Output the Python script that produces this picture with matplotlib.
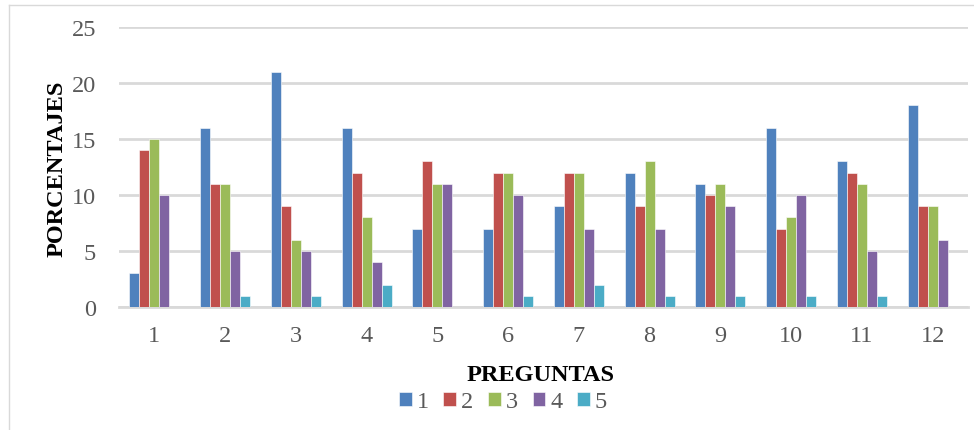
import matplotlib
matplotlib.use("Agg")
import matplotlib.pyplot as plt
import numpy as np
from matplotlib.lines import Line2D

categories = ["1", "2", "3", "4", "5", "6", "7", "8", "9", "10", "11", "12"]
series_names = ["1", "2", "3", "4", "5"]
s1 = [3, 16, 21, 16, 7, 7, 9, 12, 11, 16, 13, 18]
s2 = [14, 11, 9, 12, 13, 12, 12, 9, 10, 7, 12, 9]
s3 = [15, 11, 6, 8, 11, 12, 12, 13, 11, 8, 11, 9]
s4 = [10, 5, 5, 4, 11, 10, 7, 7, 9, 10, 5, 6]
s5 = [0, 1, 1, 2, 0, 1, 2, 1, 1, 1, 1, 0]
series = [s1, s2, s3, s4, s5]
colors = ["#4F81BD", "#C0504D", "#9BBB59", "#8064A2", "#4BACC6"]

W, H = 974, 431
fig = plt.figure(figsize=(W / 100, H / 100), dpi=100)
ax = fig.add_axes([119 / W, 1 - 308 / H, (968 - 119) / W, (308 - 28) / H])

x = np.arange(len(categories))
bw = 0.142
for i, (vals, c) in enumerate(zip(series, colors)):
    ax.bar(x + (i - 2) * bw, vals, width=bw, color=c, edgecolor="white",
           linewidth=0.4, label=series_names[i], zorder=3)

ax.set_xlim(-0.5, len(categories) - 0.5)
ax.set_ylim(0, 25)
ax.set_yticks([0, 5, 10, 15, 20, 25])
ax.set_xticks(x)
ax.set_xticklabels(categories)
ax.yaxis.grid(True, color="#D9D9D9", linewidth=2, zorder=0)
ax.set_axisbelow(True)
for sp in ["top", "right", "left"]:
    ax.spines[sp].set_visible(False)
ax.spines["bottom"].set_color("#D9D9D9")
ax.spines["bottom"].set_linewidth(2)
ax.tick_params(axis="both", length=0, labelsize=17.5, labelcolor="#595959")
for lab in ax.get_xticklabels() + ax.get_yticklabels():
    lab.set_family("Liberation Serif")
ax.tick_params(axis="x", pad=13)
ax.tick_params(axis="y", pad=16.5)

fig.text(541 / W, 1 - 376 / H, "PREGUNTAS", ha="center", va="center",
         fontsize=17.5, fontweight="bold", family="Liberation Serif", color="black")
fig.text(57 / W, 1 - 169 / H, "PORCENTAJES", ha="center", va="center",
         rotation=90, fontsize=17.5, fontweight="bold", family="Liberation Serif",
         color="black")

leg = fig.legend(loc="center", bbox_to_anchor=(503 / W, 1 - 403 / H), ncol=5,
                 frameon=False, handlelength=0.53, handleheight=0.53,
                 handletextpad=0.2, columnspacing=0.6, borderpad=0,
                 prop={"family": "Liberation Serif", "size": 17.5})
for t in leg.get_texts():
    t.set_color("#595959")

# figure border (left and top)
fig.add_artist(Line2D([9 / W, 9 / W], [0, 1 - 6 / H], transform=fig.transFigure,
                      color="#D9D9D9", linewidth=1))
fig.add_artist(Line2D([9 / W, 1], [1 - 6 / H, 1 - 6 / H], transform=fig.transFigure,
                      color="#D9D9D9", linewidth=1))

fig.savefig("out.png", dpi=100)
